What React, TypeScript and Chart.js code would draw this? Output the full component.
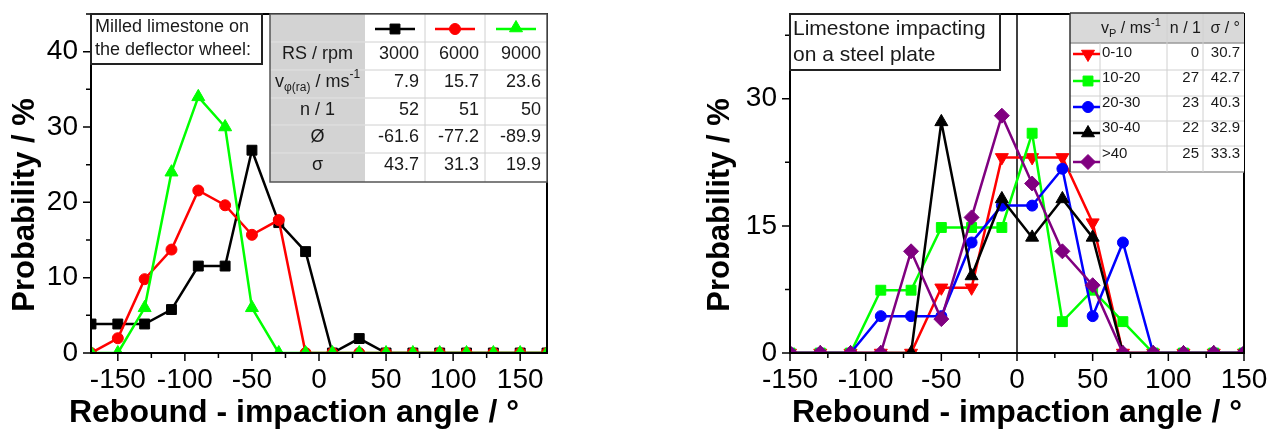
import React, { useEffect, useRef } from 'react';
import { Chart, registerables } from 'chart.js';

Chart.register(...registerables);

const FONT = "'Liberation Sans', Arial, Helvetica, sans-serif";
const TXT = '#1a1a1a';

// ---------- Left panel: milled limestone on the deflector wheel ----------
const leftAngles = [-170, -150, -130, -110, -90, -70, -50, -30, -10, 10, 30, 50, 70, 90, 110, 130, 150, 170];
const left3000 = [3.85, 3.85, 3.85, 5.77, 11.54, 11.54, 26.92, 17.31, 13.46, 0, 1.92, 0, 0, 0, 0, 0, 0, 0];
const left6000 = [0, 1.96, 9.8, 13.73, 21.57, 19.61, 15.69, 17.65, 0, 0, 0, 0, 0, 0, 0, 0, 0, 0];
const left9000 = [0, 0, 6, 24, 34, 30, 6, 0, 0, 0, 0, 0, 0, 0, 0, 0, 0, 0];
const leftXMajor = [-150, -100, -50, 0, 50, 100, 150];
const leftXMinor = [-125, -75, -25, 25, 75, 125];
const leftYMajor = [0, 10, 20, 30, 40];
const leftYMinor = [5, 15, 25, 35, 45];
const leftRpm = ['3000', '6000', '9000'];
const leftVel = ['7.9', '15.7', '23.6'];
const leftN = ['52', '51', '50'];
const leftMean = ['-61.6', '-77.2', '-89.9'];
const leftSigma = ['43.7', '31.3', '19.9'];

// ---------- Right panel: limestone impacting on a steel plate ----------
const rightAngles = [-150, -130, -110, -90, -70, -50, -30, -10, 10, 30, 50, 70, 90, 110, 130, 150];
const right0to10 = [0, 0, 0, 0, 0, 7.69, 7.69, 23.08, 23.08, 23.08, 15.38, 0, 0, 0, 0, 0];
const right10to20 = [0, 0, 0, 7.41, 7.41, 14.81, 14.81, 14.81, 25.93, 3.7, 7.41, 3.7, 0, 0, 0, 0];
const right20to30 = [0, 0, 0, 4.35, 4.35, 4.35, 13.04, 17.39, 17.39, 21.74, 4.35, 13.04, 0, 0, 0, 0];
const right30to40 = [0, 0, 0, 0, 0, 27.27, 9.09, 18.18, 13.64, 18.18, 13.64, 0, 0, 0, 0, 0];
const rightOver40 = [0, 0, 0, 0, 12, 4, 16, 28, 20, 12, 8, 0, 0, 0, 0, 0];
const rightXMajor = [-150, -100, -50, 0, 50, 100, 150];
const rightXMinor = [-125, -75, -25, 25, 75, 125];
const rightYMajor = [0, 15, 30];
const rightYMinor = [7.5, 22.5, 37.5];
const rightRanges = ['0-10', '10-20', '20-30', '30-40', '>40'];
const rightN = ['0', '27', '23', '22', '25'];
const rightSigma = ['30.7', '42.7', '40.3', '32.9', '33.3'];

const xTitle = 'Rebound - impaction angle / °';
const yTitle = 'Probability / %';

const leftSeries = [
  { label: '3000', data: left3000, color: '#000000', style: 'rect', r: 7, rot: 0, order: 3 },
  { label: '6000', data: left6000, color: '#ff0000', style: 'circle', r: 5.5, rot: 0, order: 2 },
  { label: '9000', data: left9000, color: '#00ff00', style: 'triangle', r: 7.5, rot: 0, order: 1 },
];
const rightSeries = [
  { label: '0-10', data: right0to10, color: '#ff0000', style: 'triangle', r: 7.5, rot: 180, order: 5 },
  { label: '10-20', data: right10to20, color: '#00ff00', style: 'rect', r: 7, rot: 0, order: 4 },
  { label: '20-30', data: right20to30, color: '#0000ff', style: 'circle', r: 5.5, rot: 0, order: 3 },
  { label: '30-40', data: right30to40, color: '#000000', style: 'triangle', r: 7.5, rot: 0, order: 2 },
  { label: '>40', data: rightOver40, color: '#800080', style: 'rectRot', r: 7.5, rot: 0, order: 1 },
];

function makeDatasets(series: any[], angles: number[]) {
  return series.map((s) => ({
    label: s.label,
    data: s.data.map((v: number, i: number) => ({ x: angles[i], y: v })),
    borderColor: s.color,
    backgroundColor: s.color,
    borderWidth: 2.5,
    pointStyle: s.style,
    pointRadius: s.r,
    pointRotation: s.rot,
    pointBorderWidth: 1,
    pointBorderColor: s.color,
    pointBackgroundColor: s.color,
    tension: 0,
    order: s.order,
  }));
}

function marker(ctx: CanvasRenderingContext2D, style: string, x: number, y: number, r: number, color: string, rot = 0) {
  ctx.save();
  ctx.fillStyle = color;
  ctx.strokeStyle = color;
  ctx.lineWidth = 1;
  ctx.beginPath();
  if (style === 'rect') {
    const s = r * Math.SQRT1_2;
    ctx.rect(x - s, y - s, 2 * s, 2 * s);
  } else if (style === 'circle') {
    ctx.arc(x, y, r, 0, Math.PI * 2);
  } else if (style === 'triangle') {
    let a = (rot * Math.PI) / 180;
    ctx.moveTo(x + Math.sin(a) * r, y - Math.cos(a) * r);
    for (let k = 0; k < 2; k++) {
      a += (2 * Math.PI) / 3;
      ctx.lineTo(x + Math.sin(a) * r, y - Math.cos(a) * r);
    }
  } else if (style === 'rectRot') {
    ctx.moveTo(x - r, y);
    ctx.lineTo(x, y - r);
    ctx.lineTo(x + r, y);
    ctx.lineTo(x, y + r);
  }
  ctx.closePath();
  ctx.fill();
  ctx.stroke();
  ctx.restore();
}

function sample(ctx: CanvasRenderingContext2D, s: any, x0: number, x1: number, xm: number, y: number, my: number) {
  ctx.save();
  ctx.strokeStyle = s.color;
  ctx.lineWidth = 2.5;
  ctx.beginPath();
  ctx.moveTo(x0, y);
  ctx.lineTo(x1, y);
  ctx.stroke();
  ctx.restore();
  marker(ctx, s.style, xm, my, s.r, s.color, s.rot);
}

type Run = { t: string; size: number; dy?: number };
function drawRuns(ctx: CanvasRenderingContext2D, runs: Run[], x: number, y: number, align: string) {
  let total = 0;
  const widths = runs.map((r) => {
    ctx.font = `${r.size}px ${FONT}`;
    const w = ctx.measureText(r.t).width;
    total += w;
    return w;
  });
  let cx = align === 'left' ? x : align === 'center' ? x - total / 2 : x - total;
  ctx.textAlign = 'left';
  ctx.textBaseline = 'middle';
  ctx.fillStyle = TXT;
  runs.forEach((r, i) => {
    ctx.font = `${r.size}px ${FONT}`;
    ctx.fillText(r.t, cx, y + (r.dy || 0));
    cx += widths[i];
  });
}

function text(ctx: CanvasRenderingContext2D, t: string, x: number, y: number, size: number, align: CanvasTextAlign) {
  ctx.font = `${size}px ${FONT}`;
  ctx.textAlign = align;
  ctx.textBaseline = 'middle';
  ctx.fillStyle = TXT;
  ctx.fillText(t, x, y);
}

function hline(ctx: CanvasRenderingContext2D, x0: number, x1: number, y: number, color: string, w = 1) {
  ctx.strokeStyle = color;
  ctx.lineWidth = w;
  ctx.beginPath();
  ctx.moveTo(x0, y);
  ctx.lineTo(x1, y);
  ctx.stroke();
}
function vline(ctx: CanvasRenderingContext2D, x: number, y0: number, y1: number, color: string, w = 1) {
  ctx.strokeStyle = color;
  ctx.lineWidth = w;
  ctx.beginPath();
  ctx.moveTo(x, y0);
  ctx.lineTo(x, y1);
  ctx.stroke();
}

function drawTitles(ctx: CanvasRenderingContext2D, xCenter: number, yTitleX: number) {
  ctx.save();
  ctx.fillStyle = '#000';
  ctx.textAlign = 'center';
  ctx.textBaseline = 'middle';
  ctx.font = `bold 32px ${FONT}`;
  ctx.fillText(xTitle, xCenter, 413);
  ctx.translate(yTitleX, 205);
  ctx.rotate(-Math.PI / 2);
  ctx.font = `bold 31px ${FONT}`;
  ctx.fillText(yTitle, 0, 0);
  ctx.restore();
}

function drawFrame(chart: any, xMajor: number[], xMinor: number[], yMajor: number[], yMinor: number[]) {
  const { ctx, chartArea: ca } = chart;
  const xs = chart.scales.x;
  const ys = chart.scales.y;
  ctx.save();
  ctx.strokeStyle = '#000';
  ctx.lineWidth = 2;
  ctx.strokeRect(ca.left, ca.top, ca.right - ca.left, ca.bottom - ca.top);
  ctx.lineWidth = 1.5;
  ctx.beginPath();
  xMajor.forEach((v) => {
    const p = xs.getPixelForValue(v);
    ctx.moveTo(p, ca.bottom);
    ctx.lineTo(p, ca.bottom + 8);
  });
  xMinor.forEach((v) => {
    const p = xs.getPixelForValue(v);
    ctx.moveTo(p, ca.bottom);
    ctx.lineTo(p, ca.bottom + 5);
  });
  yMajor.forEach((v) => {
    const p = ys.getPixelForValue(v);
    ctx.moveTo(ca.left, p);
    ctx.lineTo(ca.left - 8, p);
  });
  yMinor.forEach((v) => {
    const p = ys.getPixelForValue(v);
    ctx.moveTo(ca.left, p);
    ctx.lineTo(ca.left - 5, p);
  });
  ctx.stroke();
  ctx.restore();
}

const leftDecor = {
  id: 'leftDecor',
  afterDraw(chart: any) {
    const { ctx, chartArea: ca } = chart;
    drawFrame(chart, leftXMajor, leftXMinor, leftYMajor, leftYMinor);
    drawTitles(ctx, 294, 25);
    ctx.save();
    // annotation box
    const bx0 = ca.left, bx1 = 262, by0 = ca.top, by1 = 64;
    ctx.fillStyle = '#fff';
    ctx.fillRect(bx0, by0, bx1 - bx0, by1 - by0);
    ctx.strokeStyle = '#222';
    ctx.lineWidth = 2;
    ctx.strokeRect(bx0, by0, bx1 - bx0, by1 - by0);
    text(ctx, 'Milled limestone on', bx0 + 4, 27, 18, 'left');
    text(ctx, 'the deflector wheel:', bx0 + 4, 50, 18, 'left');

    // table
    const cols = [270, 365, 425, 485, ca.right];
    const rows = [ca.top, 42, 70, 98, 125, 153, 182];
    ctx.fillStyle = '#ffffff';
    ctx.fillRect(cols[0], rows[0], cols[4] - cols[0], rows[6] - rows[0]);
    ctx.fillStyle = '#d3d3d3';
    ctx.fillRect(cols[0], rows[0], cols[1] - cols[0], rows[6] - rows[0]);
    for (let i = 1; i < 6; i++) {
      hline(ctx, cols[0], cols[1], rows[i], '#e2e2e2');
      hline(ctx, cols[1], cols[4], rows[i], '#d0d0d0');
    }
    for (let j = 2; j < 4; j++) vline(ctx, cols[j], rows[0], rows[6], '#d0d0d0');
    ctx.strokeStyle = '#555';
    ctx.lineWidth = 1.5;
    ctx.strokeRect(cols[0], rows[0], cols[4] - cols[0], rows[6] - rows[0]);

    const cx = (cols[0] + cols[1]) / 2;
    leftSeries.forEach((s, j) => {
      const mid = (cols[j + 1] + cols[j + 2]) / 2;
      sample(ctx, s, mid - 20, mid + 20, mid, 29, s.style === 'triangle' ? 28 : 29);
    });
    text(ctx, 'RS / rpm', cx, 54, 18, 'center');
    drawRuns(ctx, [
      { t: 'v', size: 18 },
      { t: 'φ(ra)', size: 12, dy: 6 },
      { t: ' / ms', size: 18 },
      { t: '-1', size: 12, dy: -7 },
    ], cx, 82, 'center');
    text(ctx, 'n / 1', cx, 110, 18, 'center');
    text(ctx, 'Ø', cx, 137, 18, 'center');
    text(ctx, 'σ', cx, 165, 18, 'center');
    const rowVals = [leftRpm, leftVel, leftN, leftMean, leftSigma];
    const rowY = [54, 82, 110, 137, 165];
    rowVals.forEach((vals, i) => {
      vals.forEach((v, j) => text(ctx, v, cols[j + 2] - 6, rowY[i], 18, 'right'));
    });
    ctx.restore();
  },
};

const rightDecor = {
  id: 'rightDecor',
  beforeDatasetsDraw(chart: any) {
    const { ctx, chartArea: ca } = chart;
    const p = chart.scales.x.getPixelForValue(0);
    ctx.save();
    vline(ctx, p, ca.top, ca.bottom, '#000', 1.5);
    ctx.restore();
  },
  afterDraw(chart: any) {
    const { ctx, chartArea: ca } = chart;
    drawFrame(chart, rightXMajor, rightXMinor, rightYMajor, rightYMinor);
    drawTitles(ctx, (ca.left + ca.right) / 2, 80);
    ctx.save();
    // annotation box
    const bx0 = ca.left, bx1 = 360, by0 = ca.top, by1 = 70;
    ctx.fillStyle = '#fff';
    ctx.fillRect(bx0, by0, bx1 - bx0, by1 - by0);
    ctx.strokeStyle = '#222';
    ctx.lineWidth = 2;
    ctx.strokeRect(bx0, by0, bx1 - bx0, by1 - by0);
    text(ctx, 'Limestone impacting', bx0 + 3, 29, 21, 'left');
    text(ctx, 'on a steel plate', bx0 + 3, 55, 21, 'left');

    // table
    const cols = [430, 460, 527, 563, ca.right];
    const rows = [ca.top - 1, 43, 70, 96, 121, 146, 172];
    ctx.fillStyle = '#ffffff';
    ctx.fillRect(cols[0], rows[0], cols[4] - cols[0], rows[6] - rows[0]);
    ctx.fillStyle = '#d9d9d9';
    ctx.fillRect(cols[0], rows[0], cols[4] - cols[0], rows[1] - rows[0]);
    hline(ctx, cols[0], cols[4], rows[1], '#9a9a9a', 1.5);
    for (let i = 2; i < 6; i++) hline(ctx, cols[0], cols[4], rows[i], '#d0d0d0');
    hline(ctx, cols[0], cols[4], rows[6], '#9a9a9a', 1.5);
    vline(ctx, cols[1], rows[1], rows[6], '#d0d0d0');
    vline(ctx, cols[2], rows[0], rows[6], '#d0d0d0');
    vline(ctx, cols[3], rows[0], rows[6], '#d0d0d0');
    vline(ctx, cols[0], rows[0], rows[6], '#333', 1.5);
    hline(ctx, cols[0], cols[4], rows[0], '#333', 1.5);

    drawRuns(ctx, [
      { t: 'v', size: 16 },
      { t: 'P', size: 11, dy: 5 },
      { t: ' / ms', size: 16 },
      { t: '-1', size: 11, dy: -6 },
    ], cols[1] + 1, 29, 'left');
    text(ctx, 'n / 1', cols[3] - 2, 29, 16, 'right');
    text(ctx, 'σ / °', cols[4] - 4, 29, 16, 'right');

    const textY = [53, 78, 103, 128, 154];
    const markY = [54, 81, 107, 133, 162];
    rightSeries.forEach((s, i) => {
      sample(ctx, s, cols[0] + 3, cols[1], cols[0] + 18, markY[i], markY[i]);
      text(ctx, rightRanges[i], cols[1] + 2, textY[i], 15, 'left');
      text(ctx, rightN[i], cols[3] - 4, textY[i], 15, 'right');
      text(ctx, rightSigma[i], cols[4] - 4, textY[i], 15, 'right');
    });
    ctx.restore();
  },
};

function axisOpts(min: number, max: number, step: number, isX: boolean, fit: number) {
  return {
    type: 'linear',
    min,
    max,
    afterFit: (s: any) => {
      if (isX) s.height = fit;
      else s.width = fit;
      s.paddingTop = 0;
      s.paddingBottom = 0;
      s.paddingLeft = 0;
      s.paddingRight = 0;
    },
    grid: { display: false, drawTicks: false },
    border: { display: false },
    ticks: {
      stepSize: step,
      includeBounds: false,
      autoSkip: false,
      maxRotation: 0,
      padding: isX ? 10 : 13,
      color: '#000',
      font: { family: FONT, size: 28 },
    },
    title: { display: false },
  };
}

function baseOptions(padding: any, xs: any, ys: any) {
  return {
    responsive: false,
    animation: false,
    devicePixelRatio: 1,
    events: [],
    layout: { padding },
    plugins: { legend: { display: false }, tooltip: { enabled: false } },
    scales: { x: xs, y: ys },
  };
}

export default function App() {
  const leftRef = useRef<HTMLCanvasElement>(null);
  const rightRef = useRef<HTMLCanvasElement>(null);

  useEffect(() => {
    const c1 = new Chart(leftRef.current as HTMLCanvasElement, {
      type: 'line',
      data: { datasets: makeDatasets(leftSeries, leftAngles) as any },
      options: baseOptions(
        { left: 0, top: 14, right: 93, bottom: 0 },
        axisOpts(-170, 170, 50, true, 79),
        axisOpts(0, 45, 10, false, 91)
      ) as any,
      plugins: [leftDecor],
    });
    const c2 = new Chart(rightRef.current as HTMLCanvasElement, {
      type: 'line',
      data: { datasets: makeDatasets(rightSeries, rightAngles) as any },
      options: baseOptions(
        { left: 55, top: 14, right: 33, bottom: 0 },
        axisOpts(-150, 150, 50, true, 79),
        axisOpts(0, 40, 15, false, 95)
      ) as any,
      plugins: [rightDecor],
    });
    return () => {
      c1.destroy();
      c2.destroy();
    };
  }, []);

  return (
    <div style={{ position: 'absolute', left: 0, top: 0, width: 1277, height: 432, background: '#fff', overflow: 'hidden' }}>
      <canvas ref={leftRef} width={640} height={432} style={{ position: 'absolute', left: 0, top: 0, width: 640, height: 432 }} />
      <canvas ref={rightRef} width={637} height={432} style={{ position: 'absolute', left: 640, top: 0, width: 637, height: 432 }} />
    </div>
  );
}
